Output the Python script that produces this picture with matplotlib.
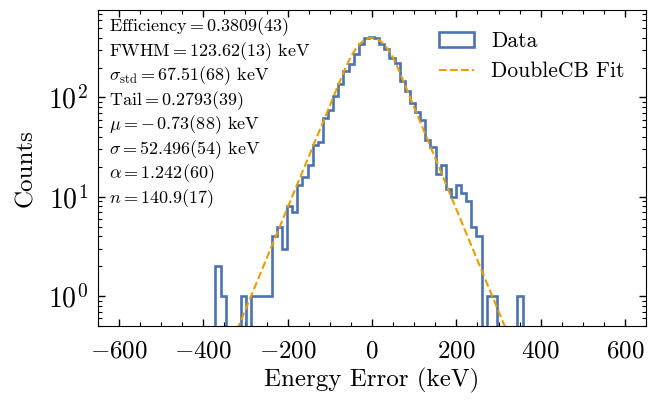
import numpy as np
import matplotlib
matplotlib.use("Agg")
from matplotlib import pyplot as plt
from matplotlib.ticker import MultipleLocator

plt.rcParams["font.family"] = "serif"
plt.rcParams["font.serif"] = ["cmr10"]
plt.rcParams["mathtext.fontset"] = "cm"
plt.rcParams["axes.formatter.use_mathtext"] = True

# histogram of energy error: 60 bins spanning the data range
bin_lo = -371.0
bin_hi = 357.0
counts = [2, 1, 0, 0, 0, 1, 0, 1, 1, 1,
          1, 4, 5, 3, 8, 7, 13, 16, 21, 33,
          36, 62, 74, 104, 136, 185, 216, 272, 342, 395,
          405, 400, 342, 305, 250, 222, 147, 117, 89, 71,
          59, 37, 32, 17, 21, 12, 10, 13, 11, 9,
          5, 4, 0, 1, 1, 0, 0, 0, 0, 1]

# DoubleCB fit curve
fit_x = np.arange(-320, 330, 10)
fit_y = [0.455, 0.576, 0.730, 0.925, 1.17, 1.48, 1.88, 2.38, 3.02, 3.82,
         4.84, 6.13, 7.77, 9.84, 12.5, 15.8, 20.0, 25.3, 32.1, 40.7,
         51.5, 65.2, 82.7, 105, 133, 168, 211, 258, 302, 342,
         374, 394, 400, 392, 370, 337, 296, 251, 205, 162,
         128, 101, 79.8, 63.0, 49.8, 39.3, 31.0, 24.5, 19.3, 15.3,
         12.0, 9.51, 7.50, 5.92, 4.67, 3.69, 2.91, 2.30, 1.82, 1.43,
         1.13, 0.893, 0.705, 0.557, 0.439]

fit_text = [
    r"Efficiency$=0.3809(43)$",
    r"FWHM$=123.62(13)$ keV",
    r"$\sigma_{\rm std}=67.51(68)$ keV",
    r"Tail$=0.2793(39)$",
    r"$\mu=-\,0.73(88)$ keV",
    r"$\sigma=52.496(54)$ keV",
    r"$\alpha=1.242(60)$",
    r"$n=140.9(17)$",
]

edges = np.linspace(bin_lo, bin_hi, len(counts) + 1)
centers = 0.5 * (edges[:-1] + edges[1:])

fig = plt.figure(figsize=(6.52, 4.01), dpi=100)
ax = fig.add_axes([0.150, 0.187, 0.841, 0.788])

ax.hist(centers, bins=edges, weights=counts, histtype="step",
        color="#4c72b0", lw=1.9, label="Data")
ax.plot(fit_x, fit_y, "--", color="#e69f00", lw=1.5, label="DoubleCB Fit")

ax.set_yscale("log")
ax.set_xlim(-650, 650)
ax.set_ylim(0.5, 760)
ax.xaxis.set_major_locator(MultipleLocator(200))
ax.xaxis.set_minor_locator(MultipleLocator(50))
ax.tick_params(which="both", direction="in", top=True, right=True)
ax.tick_params(axis="x", labelsize=18, pad=10)
ax.tick_params(axis="y", labelsize=20, pad=7)
ax.tick_params(which="major", length=5, width=1)
ax.tick_params(which="minor", length=3, width=0.8)

ax.set_xlabel("Energy Error (keV)", fontsize=18)
ax.set_ylabel("Counts", fontsize=18, labelpad=8)

for i, line in enumerate(fit_text):
    ax.text(0.02, 0.947 - 0.0775 * i, line, transform=ax.transAxes,
            fontsize=13, va="center", ha="left")

ax.legend(loc="upper right", fontsize=15.5, frameon=False,
          handlelength=1.6, borderaxespad=0.6)

plt.savefig("out.png", dpi=100)
